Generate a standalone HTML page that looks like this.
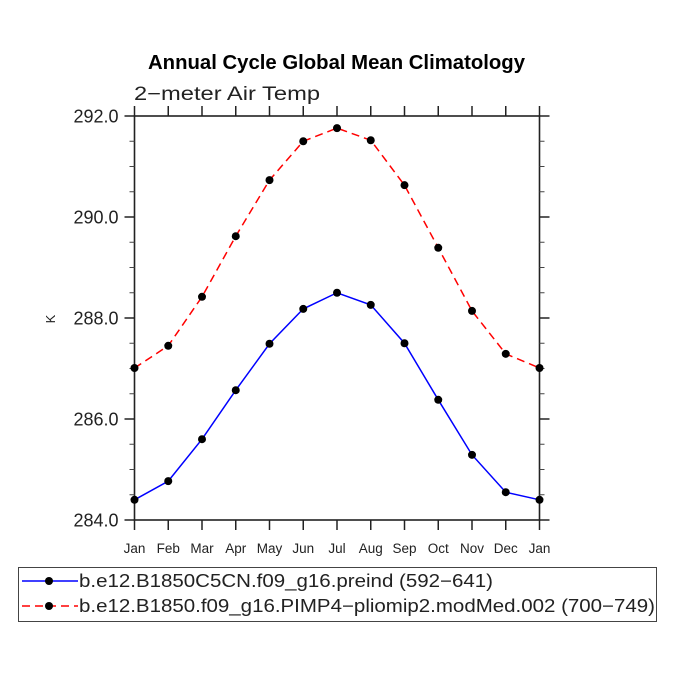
<!DOCTYPE html>
<html><head><meta charset="utf-8"><style>
html,body{margin:0;padding:0;background:#fff;}
svg{display:block;}
text{font-family:"Liberation Sans",sans-serif;}
</style></head><body>
<svg id="chart" width="675" height="675" viewBox="0 0 675 675" xmlns="http://www.w3.org/2000/svg">
<text x="148" y="69" font-size="20" font-weight="bold" textLength="377" lengthAdjust="spacingAndGlyphs">Annual Cycle Global Mean Climatology</text>
<text x="134" y="100" font-size="19" fill="#222" textLength="186" lengthAdjust="spacingAndGlyphs">2−meter Air Temp</text>
<text x="0" y="0" font-size="13" fill="#222" transform="translate(55,319) rotate(-90)" text-anchor="middle">K</text>
<g id="axes"></g>
<g id="series"></g>
<rect x="18.5" y="567.5" width="638" height="54" fill="none" stroke="#444" stroke-width="1"/>
<g>
<line x1="22" y1="581" x2="78" y2="581" stroke="#0000ff" stroke-width="1.5"/>
<circle cx="49" cy="581" r="4" fill="#000"/>
<text x="79" y="587" font-size="18" fill="#222" textLength="414" lengthAdjust="spacingAndGlyphs">b.e12.B1850C5CN.f09_g16.preind (592−641)</text>
</g>
<g>
<line x1="22" y1="606" x2="78" y2="606" stroke="#ff0000" stroke-width="1.5" stroke-dasharray="8,5"/>
<circle cx="49" cy="606" r="4" fill="#000"/>
<text x="79" y="612" font-size="18" fill="#222" textLength="576" lengthAdjust="spacingAndGlyphs">b.e12.B1850.f09_g16.PIMP4−pliomip2.modMed.002 (700−749)</text>
</g>
</svg>
<script>
const months = ["Jan","Feb","Mar","Apr","May","Jun","Jul","Aug","Sep","Oct","Nov","Dec","Jan"];
const preind = [284.40,284.77,285.60,286.57,287.49,288.18,288.50,288.26,287.50,286.38,285.29,284.55,284.40];
const plio = [287.01,287.45,288.42,289.62,290.73,291.50,291.76,291.52,290.63,289.39,288.14,287.29,287.01];
const yTicks = [284,286,288,290,292];
const yTickLabels = ["284.0","286.0","288.0","290.0","292.0"];
const yMinor = [284.5,285,285.5,286.5,287,287.5,288.5,289,289.5,290.5,291,291.5];

const X0=134.5, X1=539.5, Y0=520, Y1=116, YMIN=284, YMAX=292;
const NS="http://www.w3.org/2000/svg";
function xs(i){return X0+(X1-X0)*i/(months.length-1);}
function ys(v){return Y0-(v-YMIN)/(YMAX-YMIN)*(Y0-Y1);}
function mk(tag,attrs,parent){const e=document.createElementNS(NS,tag);for(const k in attrs)e.setAttribute(k,attrs[k]);parent.appendChild(e);return e;}
const axes=document.getElementById('axes'), series=document.getElementById('series');
const fr=mk('rect',{x:X0,y:Y1,width:X1-X0,height:Y0-Y1,fill:'none',stroke:'#222','stroke-width':1.6},axes);


months.forEach((m,i)=>{
  const x=xs(i);
  const t=mk('line',{x1:x,y1:Y0,x2:x,y2:Y0+10,stroke:'#222','stroke-width':1.5},axes);
  
  
  const t2=mk('line',{x1:x,y1:Y1,x2:x,y2:Y1-10,stroke:'#222','stroke-width':1.5},axes);
  
  
  const l=mk('text',{x:x,y:553,'font-size':13.5,'text-anchor':'middle',fill:'#222'},axes);
  l.textContent=m;
  
  
});
yTicks.forEach((v,i)=>{
  const y=ys(v);
  const a=mk('line',{x1:X0-10,y1:y,x2:X0,y2:y,stroke:'#222','stroke-width':1.5},axes);
  
  
  const b=mk('line',{x1:X1,y1:y,x2:X1+10,y2:y,stroke:'#222','stroke-width':1.5},axes);
  
  
  const l=mk('text',{x:X0-16,y:y+6.5,'font-size':18,'text-anchor':'end',fill:'#222'},axes);
  l.textContent=yTickLabels[i];
  
  
});
yMinor.forEach(v=>{
  const y=ys(v);
  const a=mk('line',{x1:X0-5,y1:y,x2:X0,y2:y,stroke:'#444','stroke-width':1},axes);
  
  
  const b=mk('line',{x1:X1,y1:y,x2:X1+5,y2:y,stroke:'#444','stroke-width':1},axes);
  
  
});
function drawSeries(vals,color,dash,name){
  const pts=vals.map((v,i)=>xs(i)+','+ys(v)).join(' ');
  const pl=mk('polyline',{points:pts,fill:'none',stroke:color,'stroke-width':1.5},series);
  if(dash)pl.setAttribute('stroke-dasharray',dash);
  
  
  vals.forEach((v,i)=>{
    const c=mk('circle',{cx:xs(i),cy:ys(v),r:4,fill:'#000'},series);
    
    
  });
}
drawSeries(preind,'#0000ff',null,'preind');
drawSeries(plio,'#ff0000','8,5','pliomip2');
</script>
</body></html>
